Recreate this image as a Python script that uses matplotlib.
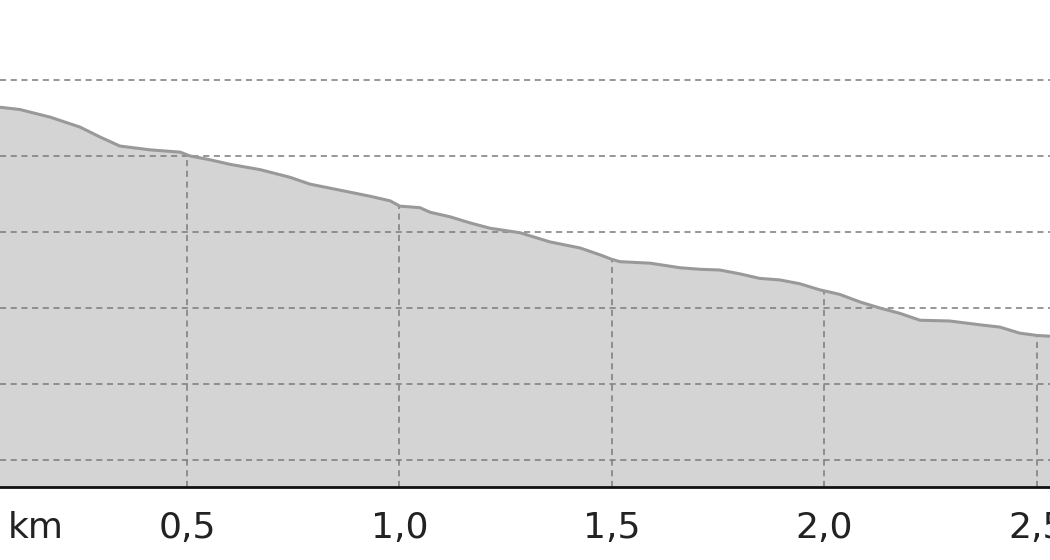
import matplotlib
matplotlib.use("Agg")
import matplotlib.pyplot as plt
import numpy as np

# Elevation profile (distance in km, elevation in m)
distance_km = [0.060, 0.107, 0.178, 0.248, 0.295, 0.342, 0.413, 0.484, 0.507, 0.554,
               0.601, 0.672, 0.742, 0.789, 0.860, 0.931, 0.978, 1.001, 1.048, 1.072,
               1.119, 1.166, 1.213, 1.284, 1.354, 1.425, 1.472, 1.500, 1.519, 1.590,
               1.660, 1.707, 1.754, 1.801, 1.848, 1.895, 1.942, 1.989, 2.036, 2.084,
               2.131, 2.178, 2.225, 2.295, 2.366, 2.413, 2.460, 2.500, 2.531]
elevation_m = [96.4, 96.1, 95.1, 93.8, 92.5, 91.3, 90.8, 90.5, 90.0, 89.5,
               88.9, 88.2, 87.2, 86.3, 85.5, 84.7, 84.1, 83.4, 83.2, 82.6,
               82.0, 81.2, 80.5, 79.9, 78.7, 77.9, 77.0, 76.4, 76.1, 75.9,
               75.3, 75.1, 75.0, 74.5, 73.9, 73.7, 73.2, 72.4, 71.8, 70.8,
               70.0, 69.3, 68.4, 68.3, 67.8, 67.5, 66.7, 66.4, 66.3]

x_ticks = [0.5, 1.0, 1.5, 2.0, 2.5]
x_labels = ["0,5", "1,0", "1,5", "2,0", "2,5"]
y_grid = [50, 60, 70, 80, 90, 100]

fig = plt.figure(figsize=(10.5, 5.6), dpi=100)
ax = fig.add_axes([0, 0.130, 1, 0.870])

y_bottom, y_top = 46.45, 110.5
ax.set_xlim(distance_km[0], distance_km[-1])
ax.set_ylim(y_bottom, y_top)

ax.fill_between(distance_km, elevation_m, y_bottom, color="#d4d4d4", zorder=1, lw=0)
ax.plot(distance_km, elevation_m, color="#999999", lw=2.2, zorder=3)

grid_style = dict(color="#7a7a7a", lw=1.1, ls=(0, (4, 3)), zorder=2)
for y in y_grid:
    ax.axhline(y, **grid_style)
for xt in x_ticks:
    ax.vlines(xt, y_bottom, np.interp(xt, distance_km, elevation_m), **grid_style)

for side in ["top", "right", "left"]:
    ax.spines[side].set_visible(False)
ax.spines["bottom"].set_linewidth(2)
ax.spines["bottom"].set_color("#111111")

ax.set_yticks([])
ax.set_xticks(x_ticks)
ax.set_xticklabels(x_labels, fontsize=26, color="#222222")
ax.tick_params(axis="x", length=0, pad=17)

ax.text(0.007, -0.084, "km", transform=ax.transAxes, fontsize=26,
        color="#222222", ha="left", va="center")

fig.savefig("out.png", dpi=100)
